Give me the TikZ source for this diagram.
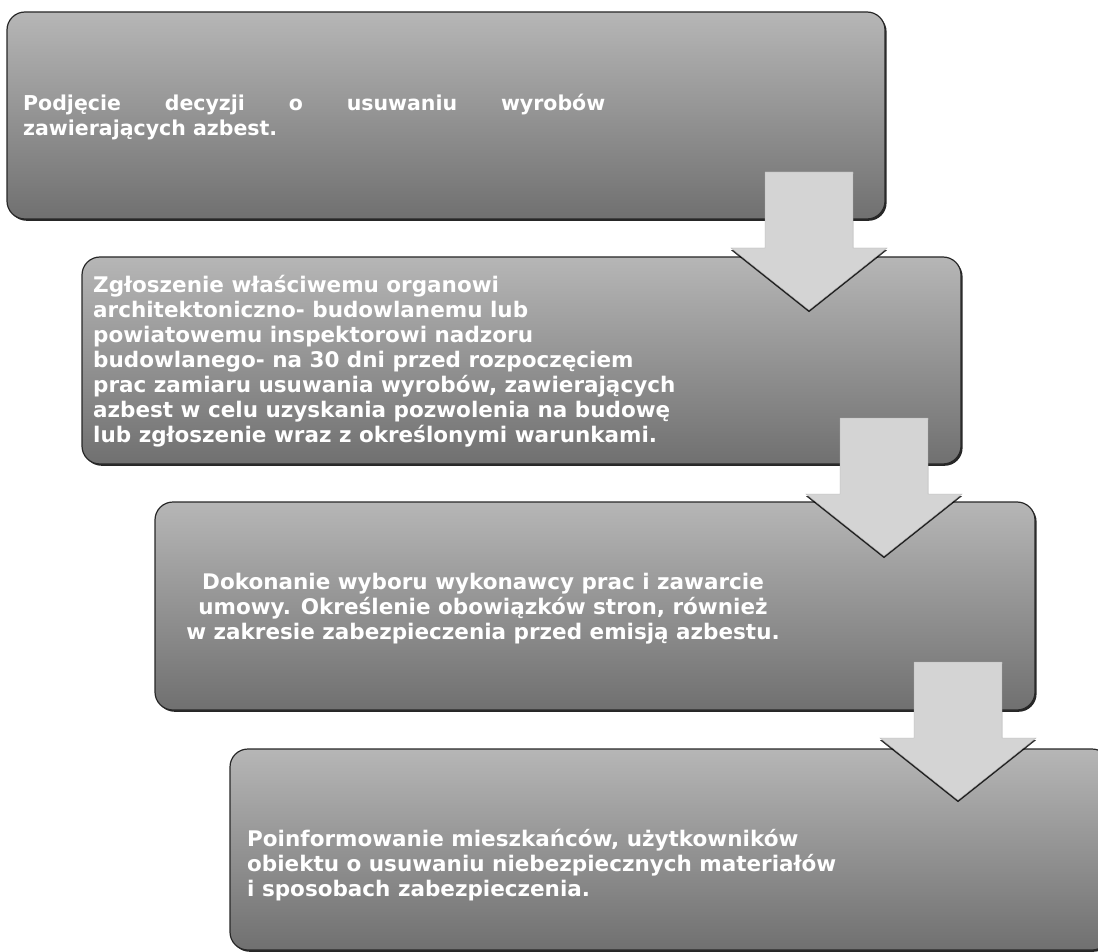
\documentclass[tikz,border=0pt]{standalone}
\usepackage{fontspec}
\newfontfamily\boxfont{DejaVu Sans}
\usetikzlibrary{calc,shadows}
\definecolor{boxtop}{RGB}{182,182,182}
\definecolor{boxbot}{RGB}{112,112,112}
\definecolor{arrowgray}{RGB}{212,212,212}
\definecolor{boxedge}{RGB}{40,40,40}
\tikzset{
  stepbox/.style={rectangle, rounded corners=18pt, draw=boxedge, line width=1.2pt,
    top color=boxtop, bottom color=boxbot, inner sep=0pt, outer sep=0pt,
    drop shadow={shadow xshift=1.6pt, shadow yshift=-1.8pt, fill=black, opacity=0.85}},
  arrowshape/.style={fill=arrowgray, draw=arrowgray!85!black, line width=0.4pt,
    drop shadow={shadow xshift=0pt, shadow yshift=-2.2pt, fill=black, opacity=0.8}},
  steptext/.style={text=white, inner sep=0pt, font=\boxfont\bfseries\fontsize{21.5}{25}\selectfont},
}
\newcommand\flowarrow[2]{%
  \path[arrowshape] ($(#1)+(-44,0)$) -- ($(#1)+(44,0)$) -- ($(#2)+(44,0)$) -- ($(#2)+(78,0)$)
    -- ($(#2)+(0,62)$) -- ($(#2)+(-78,0)$) -- ($(#2)+(-44,0)$) -- cycle;}
\begin{document}
\begin{tikzpicture}[x=1pt,y=-1pt]
\useasboundingbox (0,0) rectangle (1098,952);
\clip (0,0) rectangle (1098,952);
\fill[white] (0,0) rectangle (1098,952);
% boxes
\node[stepbox, minimum width=878pt, minimum height=207pt, anchor=north west] (b1) at (7,12) {};
\node[stepbox, minimum width=879pt, minimum height=207pt, anchor=north west] (b2) at (82,257) {};
\node[stepbox, minimum width=880pt, minimum height=208pt, anchor=north west] (b3) at (155,502) {};
\node[stepbox, minimum width=880pt, minimum height=201pt, anchor=north west] (b4) at (230,749) {};
% texts
\node[steptext, anchor=west, align=left, font=\boxfont\bfseries\fontsize{20.5}{25}\selectfont] (t1) at (23,117)
  {\makebox[582pt][s]{Podjęcie decyzji o usuwaniu wyrobów}\\zawierających azbest.};
\node[steptext, anchor=west, align=left] (t2) at (93,361)
  {Zgłoszenie właściwemu organowi\\
   architektoniczno- budowlanemu lub\\
   powiatowemu inspektorowi nadzoru\\
   budowlanego- na 30 dni przed rozpoczęciem\\
   prac zamiaru usuwania wyrobów, zawierających\\
   azbest w celu uzyskania pozwolenia na budowę\\
   lub zgłoszenie wraz z określonymi warunkami.};
\node[steptext, align=center] (t3) at (483,609)
  {Dokonanie wyboru wykonawcy prac i zawarcie\\
   umowy. Określenie obowiązków stron, również\\
   w zakresie zabezpieczenia przed emisją azbestu.};
\node[steptext, anchor=west, align=left] (t4) at (247,865)
  {Poinformowanie mieszkańców, użytkowników\\
   obiektu o usuwaniu niebezpiecznych materiałów\\
   i sposobach zabezpieczenia.};
% arrows
\coordinate (a1s) at ($(b1.south east)+(-76,-47)$);
\coordinate (a1h) at ($(a1s |- b2.north)+(0,-9)$);
\coordinate (a2s) at ($(b2.south east)+(-77,-46)$);
\coordinate (a2h) at ($(a2s |- b3.north)+(0,-8)$);
\coordinate (a3s) at ($(b3.south east)+(-77,-48)$);
\coordinate (a3h) at ($(a3s |- b4.north)+(0,-11)$);
\flowarrow{a1s}{a1h}
\flowarrow{a2s}{a2h}
\flowarrow{a3s}{a3h}
\end{tikzpicture}
\end{document}
